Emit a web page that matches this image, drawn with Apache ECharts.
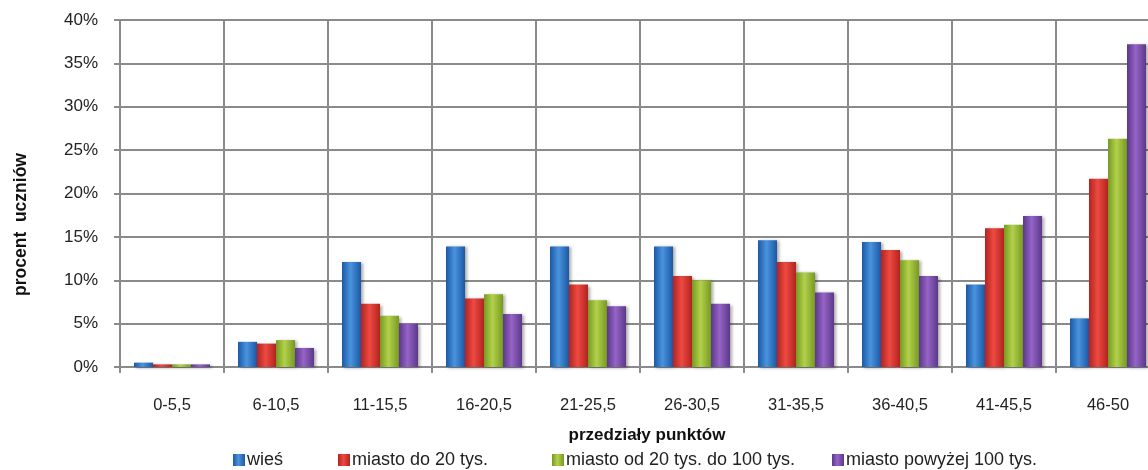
<!DOCTYPE html>
<html>
<head>
<meta charset="utf-8">
<script src="https://cdn.jsdelivr.net/npm/echarts@6/dist/echarts.min.js"></script>
<style>
html, body { margin: 0; padding: 0; background: #fff; }
#chart { width: 1148px; height: 470px; }
</style>
</head>
<body>
<div id="chart"></div>
<script>
var categories = ['0-5,5', '6-10,5', '11-15,5', '16-20,5', '21-25,5', '26-30,5', '31-35,5', '36-40,5', '41-45,5', '46-50'];
var seriesNames = ['wieś', 'miasto do 20 tys.', 'miasto od 20 tys. do 100 tys.', 'miasto powyżej 100 tys.'];
var wies = [0.5, 2.9, 12.1, 13.9, 13.9, 13.9, 14.6, 14.4, 9.5, 5.6];
var miastoDo20 = [0.3, 2.7, 7.3, 7.9, 9.5, 10.5, 12.1, 13.5, 16.0, 21.7];
var miasto20do100 = [0.3, 3.1, 5.9, 8.4, 7.7, 10.0, 10.9, 12.3, 16.4, 26.3];
var miastoPow100 = [0.3, 2.2, 5.0, 6.1, 7.0, 7.3, 8.6, 10.5, 17.4, 37.2];
var yTicks = [0, 5, 10, 15, 20, 25, 30, 35, 40];

var font = '"Liberation Sans", Arial, sans-serif';

// kolory: krawedz, srodek
var colors = [
    ['#1c58a6', '#4a93dd'],
    ['#b3231f', '#ec4a40'],
    ['#779a1f', '#b2d04c'],
    ['#5c3889', '#9464c6']
];
function grad(c) {
    return new echarts.graphic.LinearGradient(0, 0, 1, 0, [
        { offset: 0, color: c[0] },
        { offset: 0.45, color: c[1] },
        { offset: 1, color: c[0] }
    ]);
}

var allData = [wies, miastoDo20, miasto20do100, miastoPow100];
var legendLeft = [233, 338, 552, 832];

var chart = echarts.init(document.getElementById('chart'));
var option = {
    animation: false,
    grid: { left: 120, right: -12, top: 20, bottom: 103, containLabel: false, outerBoundsMode: 'none' },
    legend: seriesNames.map(function (n, i) {
        return {
            data: [n],
            left: legendLeft[i],
            top: 451,
            padding: 0,
            itemWidth: 12,
            itemHeight: 12,
            itemGap: 4,
            icon: 'rect',
            textStyle: { fontFamily: font, fontSize: 18, color: '#222', padding: [0, 0, 0, -3] }
        };
    }),
    xAxis: {
        type: 'category',
        data: categories,
        name: 'przedziały punktów',
        nameLocation: 'middle',
        nameGap: 60,
        nameTextStyle: { fontFamily: font, fontSize: 17, fontWeight: 'bold', color: '#111', padding: [0, 0, 0, 14] },
        axisLine: { lineStyle: { color: '#8a8a8a', width: 2 } },
        axisTick: { show: true, length: 6, lineStyle: { color: '#8a8a8a', width: 2 } },
        axisLabel: { fontFamily: font, fontSize: 16.5, color: '#222', margin: 30 },
        splitLine: { show: true, lineStyle: { color: '#8a8a8a', width: 2 } }
    },
    yAxis: {
        type: 'value',
        min: 0,
        max: 40,
        interval: 5,
        name: 'procent  uczniów',
        nameLocation: 'middle',
        nameRotate: 90,
        nameGap: 90,
        nameTextStyle: { fontFamily: font, fontSize: 17.5, fontWeight: 'bold', color: '#111', padding: [0, 62, 0, 0] },
        axisLine: { show: true, lineStyle: { color: '#8a8a8a', width: 2 } },
        axisTick: { show: true, length: 6, lineStyle: { color: '#8a8a8a', width: 2 } },
        axisLabel: {
            fontFamily: font, fontSize: 17, color: '#222', margin: 22,
            formatter: function (v) { return yTicks.indexOf(v) >= 0 ? v + '%' : ''; }
        },
        splitLine: { show: true, lineStyle: { color: '#8a8a8a', width: 2 } }
    },
    series: allData.map(function (d, i) {
        return {
            name: seriesNames[i],
            type: 'bar',
            data: d,
            barWidth: 19,
            barGap: '0%',
            itemStyle: {
                color: grad(colors[i]),
                shadowBlur: 3,
                shadowColor: 'rgba(0,0,0,0.35)',
                shadowOffsetX: 2,
                shadowOffsetY: 1
            }
        };
    })
};
chart.setOption(option);
</script>
</body>
</html>
